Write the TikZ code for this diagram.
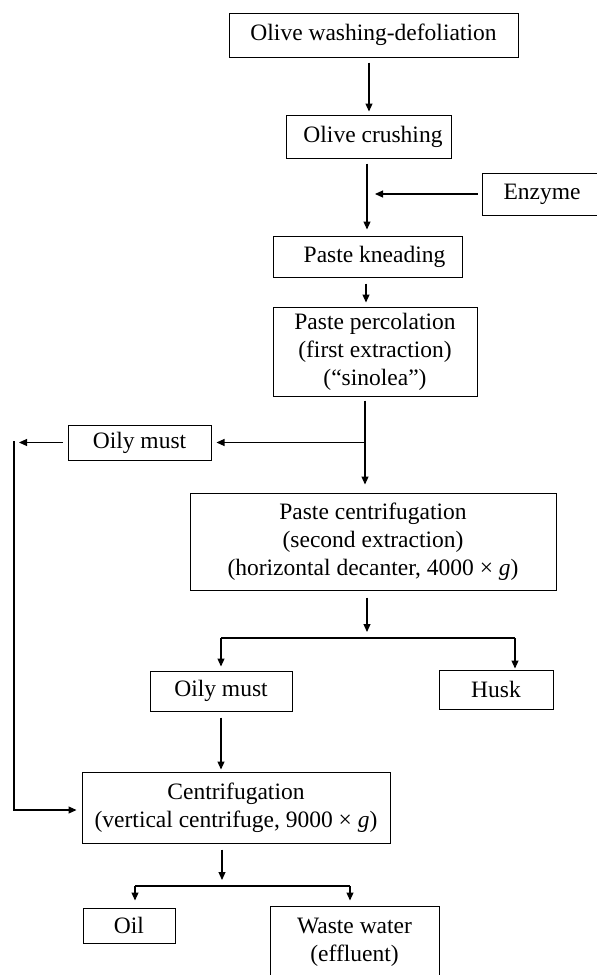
\documentclass[tikz,border=0pt]{standalone}
\usepackage{fontspec}
\setmainfont{Liberation Serif}
\usetikzlibrary{arrows.meta}
\newcommand{\boxfont}{\fontsize{23.5}{28}\selectfont}
\tikzset{
  box/.style={draw, line width=1pt, inner sep=0pt, align=center, font=\boxfont},
  arr/.style={line width=1.1pt, -{Triangle[length=8pt,width=7pt]}},
  ln/.style={line width=1.1pt}
}
\begin{document}
\begin{tikzpicture}[x=1pt,y=-1pt]
\useasboundingbox (0,0) rectangle (597,975);
% nodes
\node[box, minimum width=289pt, minimum height=44pt] (n1) at (373.5,35) {Olive washing-defoliation};
\node[box, minimum width=165pt, minimum height=43pt] (n2) at (368.5,136.5) {\hspace*{9pt}Olive crushing};
\node[box, minimum width=120pt, minimum height=42pt] (enz) at (542,194) {Enzyme};
\node[box, minimum width=189pt, minimum height=41pt] (n3) at (367.5,256.5) {\hspace*{14pt}Paste kneading};
\node[box, minimum width=204pt, minimum height=89pt] (n4) at (375,351.5) {Paste percolation\\(first extraction)\\(“sinolea”)};
\node[box, minimum width=143pt, minimum height=35pt] (om1) at (139.5,442.5) {Oily must};
\node[box, minimum width=366pt, minimum height=97pt] (n5) at (373,541.5) {Paste centrifugation\\(second extraction)\\(horizontal decanter, 4000 × \textit{g})};
\node[box, minimum width=142pt, minimum height=40pt] (om2) at (221,691) {Oily must};
\node[box, minimum width=114pt, minimum height=39pt] (husk) at (496,689.5) {Husk};
\node[box, minimum width=308pt, minimum height=71pt] (n6) at (236,807.5) {Centrifugation\\(vertical centrifuge, 9000 × \textit{g})};
\node[box, minimum width=92pt, minimum height=35pt] (oil) at (129,925.5) {Oil};
\node[box, minimum width=169pt, minimum height=72pt] (ww) at (354.5,942) {Waste water\\(effluent)};
% helper coordinates
\coordinate (x369) at (369,0);
\coordinate (x367) at (367,0);
\coordinate (x366) at (366,0);
\coordinate (ej) at (375,194);
\coordinate (b1) at (365,442.5);
\coordinate (L1) at (19,442.5);
\coordinate (L2) at (14,441);
\coordinate (L3) at (14,810);
\coordinate (b2) at (367,638);
\coordinate (hk) at (515,638);
\coordinate (b3) at (222,886);
\coordinate (ol) at (135,886);
\coordinate (wl) at (350,886);
% connectors
\draw[arr, shorten <=5pt, shorten >=3pt] (n1.south -| x369) -- (n2.north -| x369);
\draw[arr, shorten <=5pt, shorten >=6pt] (n2.south -| x367) -- (n3.north -| x367);
\draw[arr, shorten <=4pt] (enz.west) -- (ej);
\draw[arr, shorten <=6pt, shorten >=4pt] (n3.south -| x366) -- (n4.north -| x366);
\draw[arr, shorten <=4pt, shorten >=8pt] (n4.south -| b1) -- (n5.north -| b1);
\draw[arr, shorten >=5pt] (b1) -- (om1.east);
\draw[arr, shorten <=5pt] (om1.west) -- (L1);
\draw[arr, shorten >=5pt] (L2) -- (L3) -- (n6.west |- L3);
\draw[arr, shorten <=7pt, shorten >=6pt] (n5.south -| b2) -- (b2);
\draw[ln] (om2.north |- b2) -- (hk);
\draw[arr, shorten >=4pt] (om2.north |- b2) -- (om2.north);
\draw[arr, shorten >=1pt] (hk) -- (husk.north -| hk);
\draw[arr, shorten <=6pt, shorten >=2pt] (om2.south) -- (n6.north -| om2.south);
\draw[arr, shorten <=6pt, shorten >=6pt] (n6.south -| b3) -- (b3);
\draw[ln] (ol) -- (wl);
\draw[arr, shorten >=7pt] (ol) -- (oil.north -| ol);
\draw[arr, shorten >=5pt] (wl) -- (ww.north -| wl);
\end{tikzpicture}
\end{document}
